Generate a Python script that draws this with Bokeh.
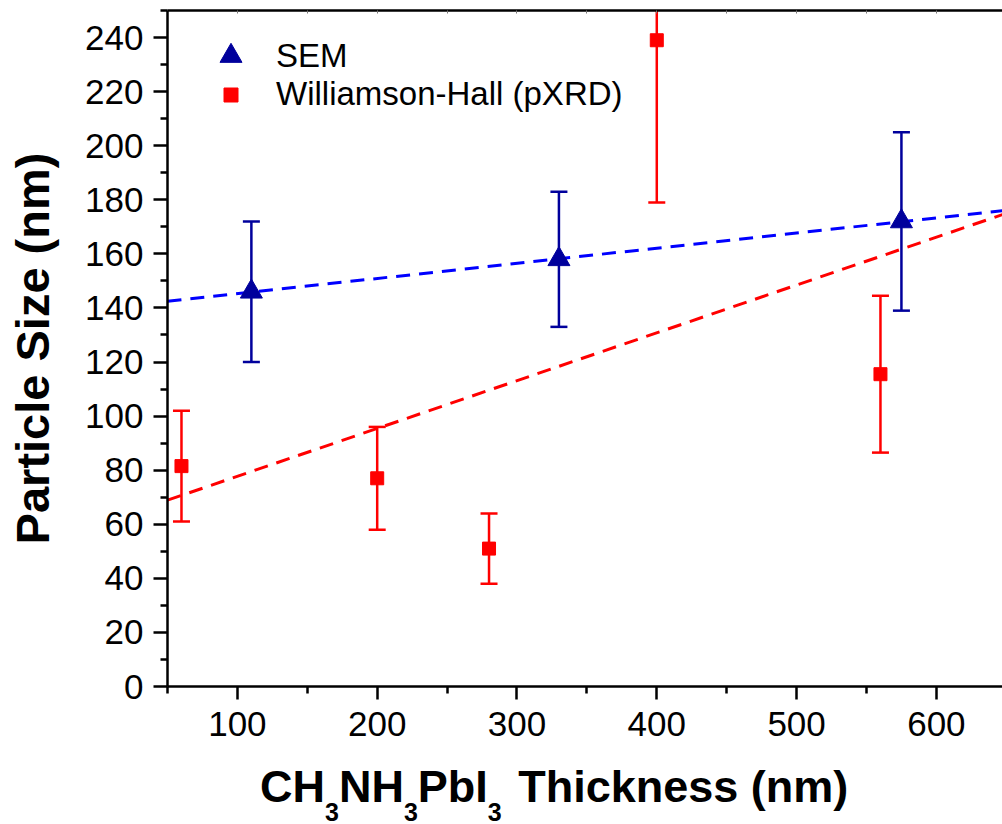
from bokeh.plotting import figure
from bokeh.layouts import column
from bokeh.models import (ColumnDataSource, Range1d, LinearAxis, FixedTicker,
                          Legend, LegendItem, Div)
from bokeh.embed import file_html
from bokeh.resources import INLINE

# ---- data ----
thickness_sem = [110, 330, 575]
size_sem = [146, 158, 172]
err_sem = [26, 25, 33]

thickness_wh = [60, 200, 280, 400, 560]
size_wh = [81.5, 77, 51, 239, 115.5]
err_wh = [20.5, 19, 13, 60, 29]

fit_x = [50, 650]
fit_sem = [142.5, 176.1]
fit_wh = [68.9, 175.0]

x_ticks = [100, 200, 300, 400, 500, 600]
x_minor = [50, 150, 250, 350, 450, 550, 650]
x_all = [50, 100, 150, 200, 250, 300, 350, 400, 450, 500, 550, 600, 650]
y_ticks = [0, 20, 40, 60, 80, 100, 120, 140, 160, 180, 200, 220, 240]
y_minor = [10, 30, 50, 70, 90, 110, 130, 150, 170, 190, 210, 230, 250]

FONT = "Liberation Sans"
NAVY = "#00009C"
BLUE = "#0000FF"
RED = "#FF0000"

p = figure(width=1002, height=756, x_range=Range1d(50, 647.3), y_range=Range1d(0, 250),
           output_backend="svg", toolbar_location=None,
           min_border_left=167, min_border_right=0, min_border_top=10, min_border_bottom=70)
p.outline_line_color = None
p.xgrid.visible = False
p.ygrid.visible = False
p.background_fill_color = "white"
p.border_fill_color = "white"

xa = p.xaxis[0]
xa.ticker = FixedTicker(ticks=x_ticks, minor_ticks=x_minor)
ya = p.yaxis[0]
ya.ticker = FixedTicker(ticks=y_ticks, minor_ticks=y_minor)
for ax, tout in ((xa, 13), (ya, 14)):
    ax.axis_line_width = 2.5
    ax.axis_line_color = "black"
    ax.major_tick_line_width = 2.5
    ax.minor_tick_line_width = 2.5
    ax.major_tick_line_color = "black"
    ax.minor_tick_line_color = "black"
    ax.major_tick_out = tout
    ax.major_tick_in = 0
    ax.minor_tick_out = 7
    ax.minor_tick_in = 0
    ax.major_label_text_font = FONT
    ax.major_label_text_font_size = "35px"
    ax.major_label_text_color = "black"
xa.major_label_standoff = 12
ya.major_label_standoff = 10
ya.axis_label = "Particle Size (nm)"
ya.axis_label_text_font = FONT
ya.axis_label_text_font_size = "47px"
ya.axis_label_text_font_style = "bold"
ya.axis_label_text_color = "black"
ya.axis_label_standoff = 23

# top border (line plus tiny inward ticks, no labels)
top = LinearAxis(ticker=FixedTicker(ticks=[], minor_ticks=x_all))
top.axis_line_width = 2.5
top.axis_line_color = "black"
top.major_tick_in = 0
top.major_tick_out = 0
top.minor_tick_in = 3
top.minor_tick_out = 0
top.minor_tick_line_color = "#777777"
top.minor_tick_line_width = 1
top.major_label_standoff = 0
p.add_layout(top, "above")

src_sem = ColumnDataSource(dict(
    x=thickness_sem, y=size_sem,
    lo=[v - e for v, e in zip(size_sem, err_sem)],
    hi=[v + e for v, e in zip(size_sem, err_sem)]))
src_wh = ColumnDataSource(dict(
    x=thickness_wh, y=size_wh,
    lo=[v - e for v, e in zip(size_wh, err_wh)],
    hi=[v + e for v, e in zip(size_wh, err_wh)]))

p.line(fit_x, fit_sem, line_color=BLUE, line_width=3, line_dash="14 9")
p.line(fit_x, fit_wh, line_color=RED, line_width=3, line_dash="14 9")

for src, col in ((src_sem, NAVY), (src_wh, RED)):
    p.segment(x0="x", y0="lo", x1="x", y1="hi", source=src, line_color=col, line_width=2.5)
    p.scatter("x", "hi", source=src, marker="dash", size=17, line_color=col, line_width=2.5)
    p.scatter("x", "lo", source=src, marker="dash", size=17, line_color=col, line_width=2.5)

r_sem = p.scatter("x", "y", source=src_sem, marker="triangle", size=22,
                  fill_color=NAVY, line_color=NAVY, line_width=1)
r_wh = p.scatter("x", "y", source=src_wh, marker="square", size=13,
                 fill_color=RED, line_color=RED, line_width=1)

common = dict(padding=0, margin=0, spacing=0, border_line_color=None,
              background_fill_alpha=0, label_text_font=FONT,
              label_text_font_size="33px", label_text_color="black")
leg1 = Legend(items=[LegendItem(label="SEM", renderers=[r_sem])], location=(36, 603),
              glyph_width=55, glyph_height=55, label_height=55, label_standoff=18, **common)
leg2 = Legend(items=[LegendItem(label="Williamson-Hall (pXRD)", renderers=[r_wh])],
              location=(46, 573), glyph_width=35, glyph_height=35, label_height=35,
              label_standoff=28, **common)
p.add_layout(leg1)
p.add_layout(leg2)

# x axis title with real subscripts
sub = '<span style="font-size:25px; position:relative; top:19px;">3</span>'
title_html = ('<div style="font-family:\'Liberation Sans\'; font-size:45px; font-weight:bold; '
              'line-height:45px; color:#000; white-space:nowrap; margin:0; '
              'padding:8px 0 0 260px;">'
              'CH' + sub + 'NH' + sub + 'PbI' + sub +
              '<span style="margin-left:4px;"> Thickness (nm)</span></div>')
xtitle = Div(text=title_html, width=1002, height=68, margin=0)

layout = column(p, xtitle, spacing=0)
open("out.html", "w").write(file_html(layout, INLINE))
